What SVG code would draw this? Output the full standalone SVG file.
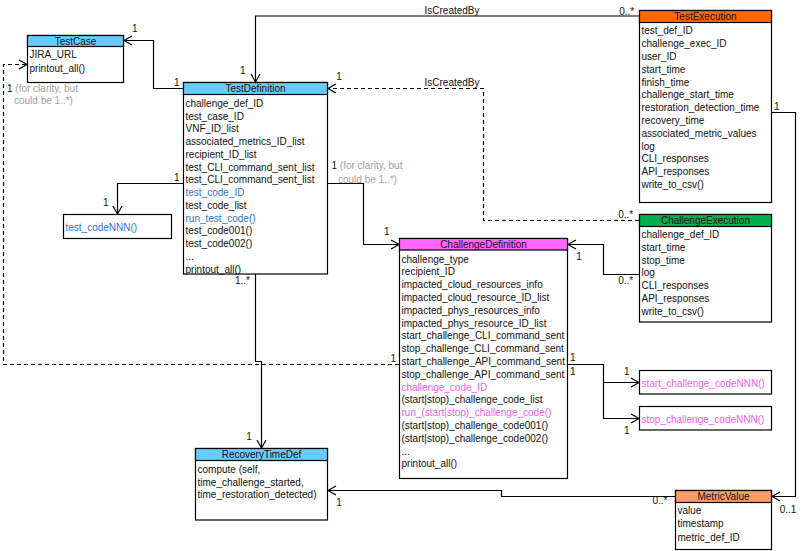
<svg xmlns="http://www.w3.org/2000/svg" width="805" height="551" viewBox="0 0 805 551">
<style>
text{font-family:"Liberation Sans",Arial,sans-serif;font-size:10px;fill:#111}
.box{fill:#fff;stroke:#000;stroke-width:1.2}
.hd{stroke:#000;stroke-width:1.2}
.t{text-anchor:middle}
.blue{fill:#2E75D0}
.mag{fill:#F060F0}
.gray{fill:#A0A0A0}
.c{fill:none;stroke:#000;stroke-width:1.2}
.d{stroke-dasharray:4 3}
</style>
<defs>
<marker id="a" markerUnits="userSpaceOnUse" markerWidth="20" markerHeight="20" refX="10" refY="10" orient="auto" overflow="visible">
<path d="M2,5.5 L10,10 L2,14.5" fill="none" stroke="#000" stroke-width="1.2"/>
</marker>
</defs>
<rect width="805" height="551" fill="#fff"/>

<g id="connectors">
<path class="c" d="M183,88.5 H153.5 V40.5 H124" marker-end="url(#a)"/>
<path class="c" d="M639,16 H255.5 V82" marker-end="url(#a)"/>
<path class="c d" d="M639,220.5 H483.5 V88.5 H328" marker-end="url(#a)"/>
<path class="c" d="M327.5,183.5 H363.5 V244.5 H399" marker-end="url(#a)"/>
<path class="c" d="M183,183.5 H117.5 V214" marker-end="url(#a)"/>
<path class="c d" d="M399,364.5 H3.5 V64.5 H27" marker-end="url(#a)"/>
<path class="c" d="M255.5,274 V361.5 H261.5 V448" marker-end="url(#a)"/>
<path class="c" d="M675,496.5 H501.5 V490.5 H328" marker-end="url(#a)"/>
<path class="c" d="M771.5,112.5 H795.5 V496.5 H772" marker-end="url(#a)"/>
<path class="c" d="M639,274.5 H603.5 V244.5 H568" marker-end="url(#a)"/>
<path class="c" d="M567.5,364.5 H603.5 V418.5 H639" marker-end="url(#a)"/>
<path class="c" d="M603.5,382.5 H639" marker-end="url(#a)"/>
<text class="t" x="134.7" y="32.3">1</text>
<text class="t" x="176.7" y="86">1</text>
<text class="t" x="452" y="13.6">IsCreatedBy</text>
<text class="t" x="626.7" y="14.6">0..*</text>
<text class="t" x="242.7" y="74">1</text>
<text class="t" x="452" y="86.3">IsCreatedBy</text>
<text class="t" x="339" y="80">1</text>
<text class="t" x="625.7" y="217.6">0..*</text>
<text x="331.5" y="169.3">1 <tspan class="gray">(for clarity, but</tspan></text>
<text class="gray" x="338" y="182.6">could be 1..*)</text>
<text class="t" x="386.7" y="235.3">1</text>
<text class="t" x="176.7" y="181">1</text>
<text class="t" x="105.7" y="206">1</text>
<text class="t" x="393.3" y="362">1</text>
<text x="7" y="91.6">1 <tspan class="gray">(for clarity, but</tspan></text>
<text class="gray" x="14" y="103.6">could be 1..*)</text>
<text x="235" y="283.6">1..*</text>
<text class="t" x="249" y="440.3">1</text>
<text class="t" x="339" y="505.6">1</text>
<text class="t" x="660" y="504.3">0..*</text>
<text class="t" x="776.7" y="110.3">1</text>
<text class="t" x="788" y="512.6">0..1</text>
<text class="t" x="579" y="260.3">1</text>
<text class="t" x="625.7" y="283.9">0..*</text>
<text class="t" x="572.7" y="361.3">1</text>
<text class="t" x="572.7" y="374.6">1</text>
<text class="t" x="626.7" y="374.6">1</text>
<text class="t" x="626.7" y="433.6">1</text>
</g>

<g id="TestCase">
<rect class="box" x="27.5" y="35.5" width="96" height="47"/>
<rect class="hd" x="27.5" y="35.5" width="96" height="11" fill="#66CCFF"/>
<text class="t" x="75.5" y="44.6">TestCase</text>
<text x="29.5" y="58">JIRA_URL</text>
<text x="29.5" y="71.6">printout_all()</text>
</g>

<g id="TestDefinition">
<rect class="box" x="183.5" y="82.5" width="144" height="191.5"/>
<rect class="hd" x="183.5" y="82.5" width="144" height="12" fill="#66CCFF"/>
<text class="t" x="255.5" y="92">TestDefinition</text>
<text x="185.5" y="106.9">challenge_def_ID<tspan x="185.5" dy="12.75">test_case_ID</tspan><tspan x="185.5" dy="12.75">VNF_ID_list</tspan><tspan x="185.5" dy="12.75">associated_metrics_ID_list</tspan><tspan x="185.5" dy="12.75">recipient_ID_list</tspan><tspan x="185.5" dy="12.75">test_CLI_command_sent_list</tspan><tspan x="185.5" dy="12.75">test_CLI_command_sent_list</tspan><tspan x="185.5" dy="12.75" class="blue">test_code_ID</tspan><tspan x="185.5" dy="12.75">test_code_list</tspan><tspan x="185.5" dy="12.75" class="blue">run_test_code()</tspan><tspan x="185.5" dy="12.75">test_code001()</tspan><tspan x="185.5" dy="12.75">test_code002()</tspan><tspan x="185.5" dy="12.75">...</tspan><tspan x="185.5" dy="12.75">printout_all()</tspan></text>
</g>

<g id="test_codeNNN">
<rect class="box" x="63.5" y="214.5" width="108" height="24"/>
<text class="blue" x="65.5" y="231">test_codeNNN()</text>
</g>

<g id="TestExecution">
<rect class="box" x="639.5" y="10.5" width="132" height="192"/>
<rect class="hd" x="639.5" y="10.5" width="132" height="12" fill="#FF6600"/>
<text class="t" x="705.5" y="20">TestExecution</text>
<text x="641.5" y="34.3">test_def_ID<tspan x="641.5" dy="12.8">challenge_exec_ID</tspan><tspan x="641.5" dy="12.8">user_ID</tspan><tspan x="641.5" dy="12.8">start_time</tspan><tspan x="641.5" dy="12.8">finish_time</tspan><tspan x="641.5" dy="12.8">challenge_start_time</tspan><tspan x="641.5" dy="12.8">restoration_detection_time</tspan><tspan x="641.5" dy="12.8">recovery_time</tspan><tspan x="641.5" dy="12.8">associated_metric_values</tspan><tspan x="641.5" dy="12.8">log</tspan><tspan x="641.5" dy="12.8">CLI_responses</tspan><tspan x="641.5" dy="12.8">API_responses</tspan><tspan x="641.5" dy="12.8">write_to_csv()</tspan></text>
</g>

<g id="ChallengeExecution">
<rect class="box" x="639.5" y="214.5" width="132" height="107.5"/>
<rect class="hd" x="639.5" y="214.5" width="132" height="12" fill="#00B050"/>
<text class="t" x="705.5" y="224.3">ChallengeExecution</text>
<text x="641.5" y="237.9">challenge_def_ID<tspan x="641.5" dy="12.8">start_time</tspan><tspan x="641.5" dy="12.8">stop_time</tspan><tspan x="641.5" dy="12.8">log</tspan><tspan x="641.5" dy="12.8">CLI_responses</tspan><tspan x="641.5" dy="12.8">API_responses</tspan><tspan x="641.5" dy="12.8">write_to_csv()</tspan></text>
</g>

<g id="ChallengeDefinition">
<rect class="box" x="399.5" y="238.5" width="168" height="240"/>
<rect class="hd" x="399.5" y="238.5" width="168" height="11.5" fill="#FF66FF"/>
<text class="t" x="483.5" y="247.8">ChallengeDefinition</text>
<text x="401.5" y="262.6">challenge_type<tspan x="401.5" dy="12.8">recipient_ID</tspan><tspan x="401.5" dy="12.8">impacted_cloud_resources_info</tspan><tspan x="401.5" dy="12.8">impacted_cloud_resource_ID_list</tspan><tspan x="401.5" dy="12.8">impacted_phys_resources_info</tspan><tspan x="401.5" dy="12.8">impacted_phys_resource_ID_list</tspan><tspan x="401.5" dy="12.8">start_challenge_CLI_command_sent</tspan><tspan x="401.5" dy="12.8">stop_challenge_CLI_command_sent</tspan><tspan x="401.5" dy="12.8">start_challenge_API_command_sent</tspan><tspan x="401.5" dy="12.8">stop_challenge_API_command_sent</tspan><tspan x="401.5" dy="12.8" class="mag">challenge_code_ID</tspan><tspan x="401.5" dy="12.8">(start|stop)_challenge_code_list</tspan><tspan x="401.5" dy="12.8" class="mag">run_(start|stop)_challenge_code()</tspan><tspan x="401.5" dy="12.8">(start|stop)_challenge_code001()</tspan><tspan x="401.5" dy="12.8">(start|stop)_challenge_code002()</tspan><tspan x="401.5" dy="12.8">...</tspan><tspan x="401.5" dy="12.8">printout_all()</tspan></text>
</g>

<g id="start_challenge_codeNNN">
<rect class="box" x="639.5" y="370.5" width="132" height="23.5"/>
<text class="mag" x="641.5" y="387">start_challenge_codeNNN()</text>
</g>

<g id="stop_challenge_codeNNN">
<rect class="box" x="639.5" y="406.5" width="132" height="23.5"/>
<text class="mag" x="641.5" y="423">stop_challenge_codeNNN()</text>
</g>

<g id="RecoveryTimeDef">
<rect class="box" x="195.5" y="448.5" width="132" height="71.5"/>
<rect class="hd" x="195.5" y="448.5" width="132" height="12" fill="#66CCFF"/>
<text class="t" x="261.5" y="458">RecoveryTimeDef</text>
<text x="197.5" y="472.6">compute (self,<tspan x="197.5" dy="12.9">time_challenge_started,</tspan><tspan x="197.5" dy="12.9">time_restoration_detected)</tspan></text>
</g>

<g id="MetricValue">
<rect class="box" x="675.5" y="490.5" width="96" height="59"/>
<rect class="hd" x="675.5" y="490.5" width="96" height="12" fill="#FF9966"/>
<text class="t" x="723.5" y="500">MetricValue</text>
<text x="677.5" y="514.3">value<tspan x="677.5" dy="13.1">timestamp</tspan><tspan x="677.5" dy="13.1">metric_def_ID</tspan></text>
</g>
</svg>
